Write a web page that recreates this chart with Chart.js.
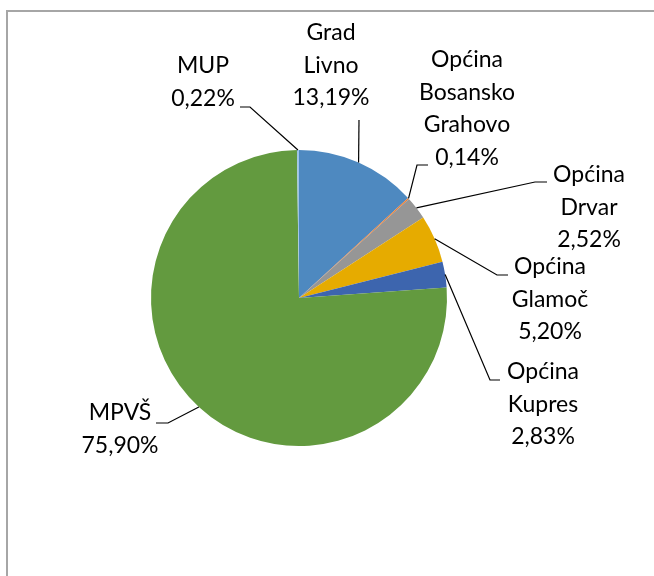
<!DOCTYPE html>
<html lang="hr">
<head>
    <meta charset="UTF-8">
    <title>Pie</title>
    <script src="https://cdn.jsdelivr.net/npm/chart.js"></script>
    <style>
        html, body { margin: 0; padding: 0; background: #fff; overflow: hidden; }
        #frame { position: absolute; left: 6px; top: 10px; width: 700px; height: 620px; border: 2px solid #a6a6a6; }
        #wrap { position: absolute; left: 0; top: 0; width: 654px; height: 576px; }
    </style>
</head>
<body>
    <div id="frame"></div>
    <div id="wrap"><canvas id="chart" width="654" height="576"></canvas></div>

    <script>
        const categories = ['Grad Livno', 'Općina Bosansko Grahovo', 'Općina Drvar', 'Općina Glamoč', 'Općina Kupres', 'MPVŠ', 'MUP'];
        const shares = [13.19, 0.14, 2.52, 5.20, 2.83, 75.90, 0.22];
        const colors = ['#4e89c0', '#ed7d31', '#969696', '#e6ab00', '#3d65ae', '#639a3f', '#9dc3e6'];

        // where each label sits: text centre x, first line y, leader elbow and end
        const labelLayout = [
            { x: 331, y: 33, elbow: null, end: [359, 120] },
            { x: 467, y: 60, elbow: [417, 165], end: [428, 165] },
            { x: 589, y: 175, elbow: [535, 182], end: [547, 182] },
            { x: 550, y: 267, elbow: [497, 275], end: [508, 275] },
            { x: 543, y: 372, elbow: [490, 380], end: [500, 380] },
            { x: 120, y: 413, elbow: [168, 423], end: [156, 423] },
            { x: 203, y: 66, elbow: [250, 107], end: [240, 107] }
        ];

        const labelPlugin = {
            id: 'pieLabels',
            afterDraw(chart) {
                const ctx = chart.ctx;
                const arcs = chart.getDatasetMeta(0).data;
                ctx.save();
                arcs.forEach((arc, i) => {
                    const lay = labelLayout[i];
                    const mid = (arc.startAngle + arc.endAngle) / 2;
                    const px = arc.x + Math.cos(mid) * arc.outerRadius;
                    const py = arc.y + Math.sin(mid) * arc.outerRadius;
                    ctx.strokeStyle = '#000';
                    ctx.lineWidth = 1.2;
                    ctx.beginPath();
                    ctx.moveTo(px, py);
                    if (lay.elbow) ctx.lineTo(lay.elbow[0], lay.elbow[1]);
                    ctx.lineTo(lay.end[0], lay.end[1]);
                    ctx.stroke();

                    const lines = categories[i].split(' ');
                    lines.push(shares[i].toFixed(2).replace('.', ',') + '%');
                    ctx.fillStyle = '#000';
                    ctx.font = '23px Lato';
                    ctx.textAlign = 'center';
                    ctx.textBaseline = 'middle';
                    lines.forEach((t, k) => ctx.fillText(t, lay.x, lay.y + k * 32.5));
                });
                ctx.restore();
            }
        };

        new Chart(document.getElementById('chart'), {
            type: 'pie',
            data: {
                labels: categories,
                datasets: [{
                    data: shares,
                    backgroundColor: colors,
                    borderWidth: 0
                }]
            },
            options: {
                responsive: false,
                animation: false,
                layout: { padding: { left: 151, right: 207, top: 150, bottom: 130 } },
                plugins: {
                    legend: { display: false },
                    tooltip: { enabled: false }
                }
            },
            plugins: [labelPlugin]
        });
    </script>
</body>
</html>
